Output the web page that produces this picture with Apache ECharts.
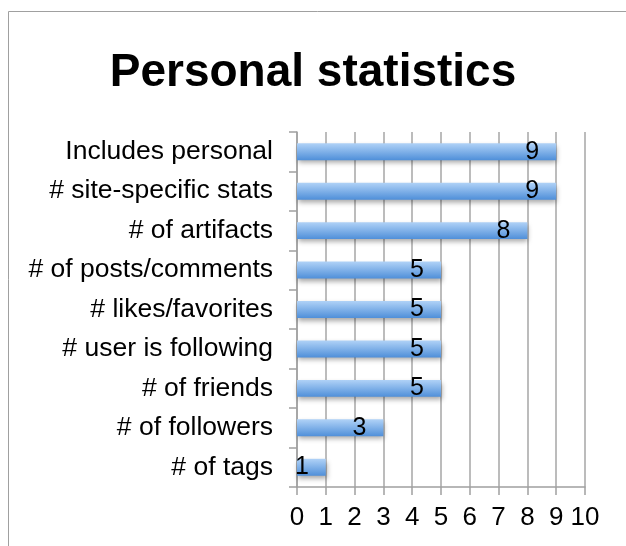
<!DOCTYPE html>
<html>
<head>
<meta charset="utf-8">
<script src="https://cdn.jsdelivr.net/npm/echarts@6/dist/echarts.min.js"></script>
<style>
  html, body { margin: 0; padding: 0; background: #fff; }
  #chart { width: 626px; height: 546px; }
</style>
</head>
<body>
<div id="chart"></div>
<script>
const categories = ['Includes personal', '# site-specific stats', '# of artifacts', '# of posts/comments',
  '# likes/favorites', '# user is following', '# of friends', '# of followers', '# of tags']
const counts = [9, 9, 8, 5, 5, 5, 5, 3, 1]

const chart = echarts.init(document.getElementById('chart'))
const font = 'Liberation Sans, Arial, sans-serif'
const option = {
  animation: false,
  graphic: [{
    type: 'rect',
    shape: {x: 8.5, y: 11.5, width: 700, height: 600},
    style: {fill: 'none', stroke: '#a0a0a0', lineWidth: 1}
  }],
  title: {
    text: 'Personal statistics',
    left: 'center',
    top: 45,
    textStyle: {fontFamily: font, fontSize: 46, fontWeight: 'bold', color: '#000'}
  },
  grid: {left: 297, right: 41, top: 132, bottom: 59},
  xAxis: {
    type: 'value',
    min: 0,
    max: 10,
    interval: 1,
    axisLine: {show: true, lineStyle: {color: '#a0a0a0', width: 1.5}},
    axisTick: {show: true, length: 8, lineStyle: {color: '#a0a0a0', width: 1.5}},
    splitLine: {show: true, lineStyle: {color: '#a6a6a6', width: 1.5}},
    axisLabel: {fontFamily: font, fontSize: 26, color: '#000', margin: 18}
  },
  yAxis: {
    type: 'category',
    inverse: true,
    data: categories,
    axisLine: {show: true, lineStyle: {color: '#a0a0a0', width: 1.5}},
    axisTick: {show: true, length: 8, lineStyle: {color: '#a0a0a0', width: 1.5}},
    axisLabel: {fontFamily: font, fontSize: 26.5, color: '#000', margin: 24}
  },
  series: [{
    type: 'bar',
    data: counts,
    barWidth: '43%',
    itemStyle: {
      color: new echarts.graphic.LinearGradient(0, 0, 0, 1, [
        {offset: 0, color: '#b0d2f7'},
        {offset: 1, color: '#4f8fd9'}
      ]),
      shadowColor: 'rgba(0,0,0,0.35)',
      shadowBlur: 5,
      shadowOffsetY: 3,
      shadowOffsetX: 1
    },
    label: {
      show: true,
      position: 'insideRight',
      distance: 17,
      fontFamily: font,
      fontSize: 25,
      color: '#000'
    }
  }]
}
chart.setOption(option)
</script>
</body>
</html>
